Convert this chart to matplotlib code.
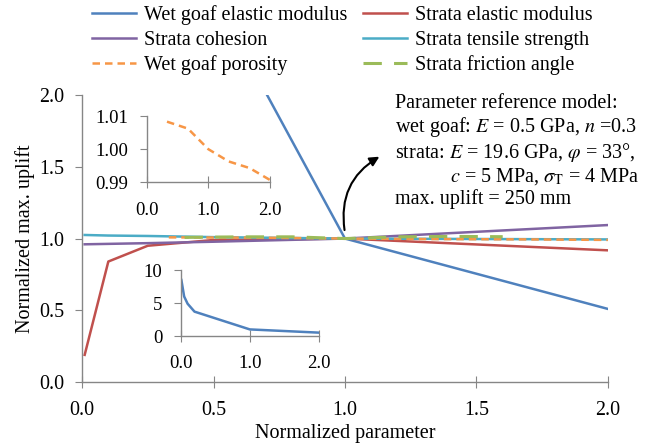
"""Sensitivity of normalized max. uplift to model parameters."""

import matplotlib
matplotlib.use("Agg")
import matplotlib.pyplot as plt
from matplotlib.ticker import FormatStrFormatter

plt.rcParams["font.family"] = ["Liberation Serif", "DejaVu Serif"]
plt.rcParams["mathtext.fontset"] = "stix"
plt.rcParams["font.size"] = 14.4

# wet goaf elastic modulus
goaf_e_x = [0.01, 0.05, 0.1, 0.2, 1.0, 2.0]
goaf_e_y = [8.5, 6.0, 4.9, 3.7, 1.0, 0.51]

# strata elastic modulus
strata_e_x = [0.01, 0.1, 0.25, 0.5, 1.0, 2.0]
strata_e_y = [0.19, 0.84, 0.95, 0.99, 1.0, 0.918]

# strata cohesion
cohesion_x = [0.01, 0.25, 0.5, 1.0, 1.5, 2.0]
cohesion_y = [0.96, 0.968, 0.978, 1.0, 1.047, 1.094]

# strata tensile strength
tensile_x = [0.01, 0.1, 0.25, 0.5, 1.0, 1.5, 2.0]
tensile_y = [1.025, 1.021, 1.018, 1.01, 1.0, 0.997, 0.994]

# wet goaf porosity
porosity_x = [0.33, 0.67, 1.0, 1.33, 1.67, 2.0]
porosity_y = [1.0083, 1.0062, 1.0, 0.9963, 0.9943, 0.9907]

# strata friction angle
friction_x = [0.39, 0.6, 0.8, 1.0, 1.2, 1.4, 1.6]
friction_y = [1.008, 1.012, 1.012, 1.0, 1.012, 1.015, 1.013]

BLUE = "#4F81BD"
RED = "#C0504D"
PURPLE = "#8064A2"
CYAN = "#4BACC6"
ORANGE = "#F79646"
GREEN = "#9BBB59"
SPINE = "#868686"


def style_axes(ax, size, xpad, ypad):
    for side in ("top", "right"):
        ax.spines[side].set_visible(False)
    for side in ("left", "bottom"):
        ax.spines[side].set_color(SPINE)
        ax.spines[side].set_linewidth(1.0)
    ax.tick_params(axis="y", direction="out", color=SPINE, length=5,
                   labelsize=size, pad=ypad)
    ax.tick_params(axis="x", direction="inout", color=SPINE, length=8,
                   labelsize=size, pad=xpad)


fig = plt.figure(figsize=(6.46, 4.48), dpi=100)
ax = fig.add_axes([0.127, 0.147, 0.814, 0.641])

lw = 1.8
h_goaf_e, = ax.plot(goaf_e_x, goaf_e_y, color=BLUE, lw=lw, label="Wet goaf elastic modulus")
h_strata_e, = ax.plot(strata_e_x, strata_e_y, color=RED, lw=lw, label="Strata elastic modulus")
h_coh, = ax.plot(cohesion_x, cohesion_y, color=PURPLE, lw=lw, label="Strata cohesion")
h_ten, = ax.plot(tensile_x, tensile_y, color=CYAN, lw=lw, label="Strata tensile strength")
h_por, = ax.plot(porosity_x, porosity_y, color=ORANGE, lw=lw, ls=(0, (3, 2)),
                 label="Wet goaf porosity")
h_fri, = ax.plot(friction_x, friction_y, color=GREEN, lw=lw + 0.4, ls=(0, (6, 4)),
                 label="Strata friction angle")

ax.set_xlim(0, 2)
ax.set_ylim(0, 2)
ax.set_xticks([0, 0.5, 1.0, 1.5, 2.0])
ax.set_yticks([0, 0.5, 1.0, 1.5, 2.0])
ax.xaxis.set_major_formatter(FormatStrFormatter("%.1f"))
ax.yaxis.set_major_formatter(FormatStrFormatter("%.1f"))
style_axes(ax, 14.4, 9.5, 8)
ax.set_xlabel("Normalized parameter", fontsize=14.5, labelpad=3)
ax.set_ylabel("Normalized max. uplift", fontsize=14.5, labelpad=3)

handles = [h_goaf_e, h_coh, h_por, h_strata_e, h_ten, h_fri]
fig.legend(handles=handles, labels=[h.get_label() for h in handles], ncol=2,
           loc="upper left", bbox_to_anchor=(0.114, 1.029), frameon=False,
           fontsize=14.5, handlelength=2.2, handletextpad=0.4, columnspacing=0.75,
           labelspacing=0.28)

# reference model note and arrow
note = ("Parameter reference model:\n"
        "wet goaf: $E$ = 0.5 GPa, $n$ =0.3\n"
        "strata: $E$ = 19.6 GPa, $\\varphi$ = 33°,\n"
        "           $c$ = 5 MPa, $\\sigma_\\mathrm{T}$ = 4 MPa\n"
        "max. uplift = 250 mm")
fig.text(0.611, 0.79, note, ha="left", va="top", fontsize=14.5, linespacing=1.12)
ax.annotate("", xy=(1.14, 1.58), xytext=(1.0, 1.04),
            arrowprops=dict(arrowstyle="-|>", color="black", lw=1.5,
                            connectionstyle="arc3,rad=-0.35", mutation_scale=14))

# inset: porosity close-up
ins1 = fig.add_axes([0.227, 0.593, 0.191, 0.148])
ins1.plot(porosity_x, porosity_y, color=ORANGE, lw=lw, ls=(0, (3, 2)))
ins1.set_xlim(0, 2)
ins1.set_ylim(0.99, 1.01)
ins1.set_xticks([0, 1.0, 2.0])
ins1.set_yticks([0.99, 1.00, 1.01])
ins1.xaxis.set_major_formatter(FormatStrFormatter("%.1f"))
ins1.yaxis.set_major_formatter(FormatStrFormatter("%.2f"))
ins1.patch.set_alpha(0)
style_axes(ins1, 13.5, 10, 8)

# inset: wet goaf elastic modulus full range
ins2 = fig.add_axes([0.2797, 0.25, 0.214, 0.147])
ins2.plot(goaf_e_x, goaf_e_y, color=BLUE, lw=lw)
ins2.set_xlim(0, 2)
ins2.set_ylim(0, 10)
ins2.set_xticks([0, 1.0, 2.0])
ins2.set_yticks([0, 5, 10])
ins2.xaxis.set_major_formatter(FormatStrFormatter("%.1f"))
ins2.patch.set_alpha(0)
style_axes(ins2, 13.5, 10, 8)

fig.savefig("out.png", dpi=100)
